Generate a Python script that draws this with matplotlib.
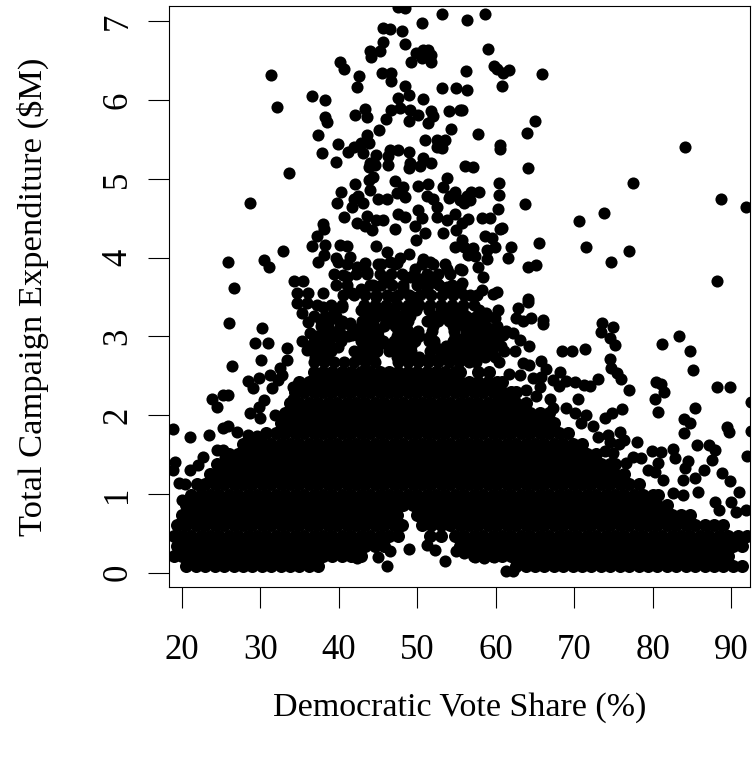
import matplotlib
matplotlib.use("Agg")
import matplotlib.pyplot as plt

plt.rcParams['font.family'] = ['Liberation Serif', 'DejaVu Serif']

x_ticks = [20, 30, 40, 50, 60, 70, 80, 90]
y_ticks = [0, 1, 2, 3, 4, 5, 6, 7]
x_title = "Democratic Vote Share (%)"
y_title = "Total Campaign Expenditure ($M)"

# isolated and loosely packed races: (vote share, expenditure)
sparse_x = [31.38,32.1,33.67,28.66,25.86,26.7,30.5,31.08,32.9,34.3,35.5,36.6,38.3,38.25,38.5,37.3,37.9,39.87,39.66,40.17,40.67,42.6,42.3,
 43.95,44.1,45.2,45.6,45.7,46.5,48.0,48.4,50.6,53.1,47.6,48.5,49.9,50.8,51.4,51.8,50.6,49.2,51.7,45.5,46.7,46.7,48.4,48.9,47.5,50.8,53.1,55.0,
 43.35,43.56,42.08,47.8,46.7,46.0,45.1,49.1,50.1,48.9,51.8,52.05,51.4,54.0,55.4,54.3,43.65,42.9,41.9,41.2,43.8,43.1,51.0,52.5,53.5,52.5,53.2,
 44.75,44.0,44.6,43.8,46.5,46.3,46.3,47.6,48.9,49.1,49.0,50.4,50.8,51.8,43.9,44.4,42.1,40.25,39.75,47.2,48.2,50.1,51.4,53.75,53.3,
 54.8,54.2,55.4,42.5,41.9,43.1,44.0,45.0,46.1,47.4,48.4,51.2,52.05,52.5,54.0,54.8,
 41.65,40.7,42.3,43.6,44.8,45.7,44.2,43.3,47.2,47.6,48.4,50.1,50.6,49.7,52.5,53.75,55.0,53.3,51.0,49.9,54.8,
 38.0,38.1,37.2,38.25,40.2,41.0,38.1,36.55,37.4,39.7,41.45,39.95,43.35,43.6,40.6,42.3,41.0,44.8,46.1,47.8,48.9,46.5,45.05,50.8,51.6,49.7,53.75,55.4,47.4,49.1,51.8,50.4,52.5,44.4,46.1,48.2,51.2,53.75,55.4,41.65,42.9,34.65,36.1,38.0,44.8,47.0,49.5,
 58.6,56.4,59.06,59.8,60.1,60.9,61.65,56.2,65.9,60.8,56.3,55.65,65.05,64.03,57.7,60.6,60.55,56.1,57.05,64.1,77.45,84.15,60.4,60.4,57.9,56.9,56.3,56.7,55.9,60.3,63.7,58.2,59.3,56.5,55.65,60.55,60.75,70.6,73.75,88.65,91.9,
 58.6,59.5,59.9,58.85,58.9,57.15,56.5,57.4,55.65,55.9,62.0,61.6,65.5,71.5,77.0,74.7,64.15,65.1,88.15,57.8,58.4,55.65,55.65,59.7,60.2,58.2,57.6,56.7,55.9,64.15,
 26.0,30.2,29.4,30.96,30.1,26.4,28.5,29.05,29.8,23.9,24.45,25.2,25.85,30.5,29.8,28.7,30.0,31.9,18.85,21.0,23.5,25.3,25.95,27.1,28.5,29.55,
 22.7,22.1,21.06,19.15,18.94,19.6,20.4,20.1,24.5,25.3,25.5,31.25,32.5,33.4,32.3,31.5,33.4,35.3,36.35,38.05,36.1,35.3,34.65,35.9,38.05,40.4,38.6,39.3,41.45,40.2,41.65,42.7,39.96,35.9,38.05,34.2,34.2,32.75,
 73.5,74.95,73.45,74.5,75.15,68.45,69.75,71.4,81.2,83.35,84.7,85.15,88.25,89.8,74.6,74.7,75.4,76.0,77.0,80.4,81.1,81.5,80.25,80.65,85.4,84.0,84.7,84.0,89.4,89.7,92.55,92.55,92.05,
 73.0,72.0,71.3,70.05,69.0,68.15,67.3,68.05,70.5,76.1,74.85,73.9,66.0,66.0,64.3,64.1,62.85,64.5,63.45,62.6,60.3,58.8,57.1,59.9,62.2,60.9,63.05,59.45,58.2,57.1,55.4,62.4,65.8,66.45,63.5,64.3,61.75,63.05,
 64.75,65.8,63.9,65.6,61.75,60.9,66.9,65.15,69.0,70.05,71.5,70.9,72.4,67.3,73.0,74.3,75.8,76.4,74.5,78.0,75.65,79.9,81.0,82.6,82.8,84.5,84.05,85.65,87.2,87.9,87.6,86.5,88.8,89.9,90.95,
 80.65,80.25,83.85,85.35,85.75,83.85,87.9,90.0,91.9,90.65,88.5,73.9,74.95,77.5,78.55,76.6,79.4,81.3,82.6,
 46.1,49.0,53.5,42.3,45.0,46.5,51.2,52.3,55.0,61.3,62.2,56.0,57.3,58.5,59.8]
sparse_y = [6.32,5.91,5.07,4.70,3.94,3.61,3.97,3.88,4.09,3.71,3.70,6.05,6.0,5.79,5.72,5.56,5.33,5.44,5.22,6.49,6.40,6.31,6.17,
 6.63,6.55,6.63,6.74,6.92,6.91,6.88,6.71,6.98,7.09,7.18,7.17,6.6,6.64,6.64,6.58,6.54,6.49,6.49,6.35,6.35,6.25,6.18,6.06,6.03,6.02,6.16,6.15,
 5.89,5.79,5.81,5.9,5.87,5.76,5.62,5.87,5.81,5.73,5.86,5.8,5.71,5.86,5.87,5.63,5.56,5.46,5.41,5.34,5.46,5.33,5.5,5.5,5.5,5.41,5.39,
 5.3,5.2,5.18,5.15,5.37,5.29,5.18,5.37,5.34,5.2,5.14,5.16,5.26,5.2,4.99,5.03,4.93,4.83,4.69,4.97,4.9,4.91,4.94,5.01,4.9,
 4.84,4.78,4.73,4.78,4.74,4.69,4.86,4.74,4.75,4.82,4.77,4.78,4.74,4.65,4.76,4.56,
 4.65,4.52,4.44,4.53,4.48,4.48,4.35,4.4,4.36,4.56,4.52,4.6,4.5,4.4,4.52,4.48,4.35,4.31,4.31,4.22,4.14,
 4.43,4.36,4.28,4.16,4.16,4.15,4.03,4.15,3.95,4.0,4.01,3.94,3.93,3.82,3.78,3.88,3.75,4.15,4.07,4.0,4.05,3.95,3.92,3.98,3.95,3.85,3.85,3.85,3.93,3.75,3.75,3.73,3.68,3.65,3.72,3.62,3.62,3.63,3.62,3.55,3.6,3.55,3.55,3.55,3.5,3.5,3.5,
 7.09,7.02,6.65,6.44,6.39,6.34,6.38,6.37,6.33,6.18,6.13,5.88,5.73,5.58,5.57,5.43,5.38,5.16,5.15,5.14,4.95,5.40,4.95,4.80,4.84,4.83,4.78,4.73,4.69,4.62,4.68,4.5,4.51,4.49,4.44,4.36,4.38,4.47,4.57,4.74,4.64,
 4.27,4.25,4.14,4.1,3.98,4.12,4.04,4.02,4.23,4.14,4.13,4.0,4.19,4.14,4.08,3.94,3.88,3.91,3.71,3.88,3.76,3.84,3.68,3.54,3.56,3.59,3.53,3.53,3.53,3.48,
 3.17,3.11,2.92,2.92,2.70,2.62,2.44,2.35,2.47,2.2,2.11,2.26,2.25,2.19,2.11,2.03,1.96,2.0,1.82,1.72,1.75,1.84,1.86,1.79,1.75,1.73,
 1.47,1.37,1.3,1.41,1.3,1.14,1.12,0.92,1.56,1.56,1.47,2.51,2.6,2.7,2.45,2.35,2.85,2.94,3.04,3.02,3.18,3.3,3.43,3.42,3.38,3.38,3.17,3.23,3.17,3.04,3.02,2.81,2.87,2.83,2.83,2.2,2.36,2.51,
 3.17,3.12,3.05,2.98,2.89,2.82,2.82,2.84,2.90,3.0,2.81,2.57,2.36,2.36,2.71,2.6,2.53,2.46,2.32,2.42,2.39,2.29,2.2,2.04,2.09,1.95,1.9,1.77,1.85,1.78,2.17,1.8,1.48,
 2.46,2.37,2.385,2.42,2.44,2.55,2.45,2.37,2.21,2.08,2.03,1.97,3.21,3.16,2.88,3.44,3.36,3.23,3.19,3.23,3.34,3.3,3.23,3.23,3.04,3.02,2.96,3.1,3.04,3.1,3.3,2.81,2.69,2.59,2.66,2.64,2.52,2.51,
 2.47,2.49,2.32,2.36,2.22,2.22,2.2,2.24,2.09,2.03,2.0,1.9,1.86,2.09,1.72,1.75,1.79,1.69,1.66,1.66,1.64,1.54,1.53,1.57,1.45,1.42,1.33,1.62,1.62,1.56,1.43,1.3,1.27,1.16,1.02,
 1.39,1.28,1.18,1.2,1.03,0.99,0.9,0.9,0.8,0.77,0.8,1.54,1.52,1.47,1.45,1.39,1.3,1.18,1.01,
 0.08,0.3,0.15,0.18,0.2,0.27,0.35,0.29,0.27,0.02,0.02,0.25,0.2,0.18,0.2]

# the heavily overplotted mass of races, read band by band
band_y = [0.08,0.21,0.34,0.47,0.60,0.73,0.86,0.99,1.12,1.25,1.38,1.51,1.64,1.77,1.90,2.03,2.16,2.29,2.42,2.55]
band_x = [
 [20.6,21.8,23.0,24.2,25.4,26.6,27.8,29.0,30.2,31.4,32.6,33.8,35.0,36.2,37.4,62.6,63.8,65.0,66.2,67.4,68.6,69.8,71.0,72.2,73.4,74.6,75.8,77.0,78.2,79.4,80.6,81.8,83.0,84.2,85.4,86.6,87.8,89.0,90.2,91.4],
 [19.0,20.0,21.2,22.4,23.6,24.8,26.0,27.2,28.4,29.6,30.8,32.0,33.2,34.4,35.6,36.8,38.0,39.2,40.4,41.6,42.8,57.2,58.4,59.6,60.8,62.0,63.2,64.4,65.6,66.8,68.0,69.2,70.4,71.6,72.8,74.0,75.2,76.4,77.6,78.8,80.0,81.2,82.4,83.6,84.8,86.0,87.2,88.4,89.6],
 [19.4,20.6,21.8,23.0,24.2,25.4,26.6,27.8,29.0,30.2,31.4,32.6,33.8,35.0,36.2,37.4,38.6,39.8,41.0,42.2,43.4,44.6,45.8,55.4,56.6,57.8,59.0,60.2,61.4,62.6,63.8,65.0,66.2,67.4,68.6,69.8,71.0,72.2,73.4,74.6,75.8,77.0,78.2,79.4,80.6,81.8,83.0,84.2,85.4,86.6,87.8,89.0,90.2,91.4],
 [19.0,20.0,21.2,22.4,23.6,24.8,26.0,27.2,28.4,29.6,30.8,32.0,33.2,34.4,35.6,36.8,38.0,39.2,40.4,41.6,42.8,44.0,45.2,46.4,47.6,51.6,53.0,54.8,56.0,57.2,58.4,59.6,60.8,62.0,63.2,64.4,65.6,66.8,68.0,69.2,70.4,71.6,72.8,74.0,75.2,76.4,77.6,78.8,80.0,81.2,82.4,83.6,84.8,86.0,87.2,88.4,89.6,90.8,92.0],
 [19.4,20.6,21.8,23.0,24.2,25.4,26.6,27.8,29.0,30.2,31.4,32.6,33.8,35.0,36.2,37.4,38.6,39.8,41.0,42.2,43.4,44.6,45.8,47.0,48.0,50.6,51.8,53.0,54.2,55.4,56.6,57.8,59.0,60.2,61.4,62.6,63.8,65.0,66.2,67.4,68.6,69.8,71.0,72.2,73.4,74.6,75.8,77.0,78.2,79.4,80.6,81.8,83.0,84.2,85.4,86.6,87.8,89.0],
 [20.0,21.2,22.4,23.6,24.8,26.0,27.2,28.4,29.6,30.8,32.0,33.2,34.4,35.6,36.8,38.0,39.2,40.4,41.6,42.8,44.0,45.2,46.4,47.4,50.0,51.2,52.4,53.6,54.8,56.0,57.2,58.4,59.6,60.8,62.0,63.2,64.4,65.6,66.8,68.0,69.2,70.4,71.6,72.8,74.0,75.2,76.4,77.6,78.8,80.0,81.2,82.4,83.6,84.8],
 [20.6,21.8,23.0,24.2,25.4,26.6,27.8,29.0,30.2,31.4,32.6,33.8,35.0,36.2,37.4,38.6,39.8,41.0,42.2,43.4,44.6,45.8,47.0,48.2,49.4,50.6,51.8,53.0,54.2,55.4,56.6,57.8,59.0,60.2,61.4,62.6,63.8,65.0,66.2,67.4,68.6,69.8,71.0,72.2,73.4,74.6,75.8,77.0,78.2,79.4,80.6,81.8],
 [21.2,22.4,23.6,24.8,26.0,27.2,28.4,29.6,30.8,32.0,33.2,34.4,35.6,36.8,38.0,39.2,40.4,41.6,42.8,44.0,45.2,46.4,47.6,48.8,50.0,51.2,52.4,53.6,54.8,56.0,57.2,58.4,59.6,60.8,62.0,63.2,64.4,65.6,66.8,68.0,69.2,70.4,71.6,72.8,74.0,75.2,76.4,77.6,78.8,80.0,80.7],
 [21.9,23.0,24.2,25.4,26.6,27.8,29.0,30.2,31.4,32.6,33.8,35.0,36.2,37.4,38.6,39.8,41.0,42.2,43.4,44.6,45.8,47.0,48.2,49.4,50.6,51.8,53.0,54.2,55.4,56.6,57.8,59.0,60.2,61.4,62.6,63.8,65.0,66.2,67.4,68.6,69.8,71.0,72.2,73.4,74.6,75.8,77.0,78.2],
 [23.6,24.8,26.0,27.2,28.4,29.6,30.8,32.0,33.2,34.4,35.6,36.8,38.0,39.2,40.4,41.6,42.8,44.0,45.2,46.4,47.6,48.8,50.0,51.2,52.4,53.6,54.8,56.0,57.2,58.4,59.6,60.8,62.0,63.2,64.4,65.6,66.8,68.0,69.2,70.4,71.6,72.8,74.0,75.2,76.4],
 [24.5,25.4,26.6,27.8,29.0,30.2,31.4,32.6,33.8,35.0,36.2,37.4,38.6,39.8,41.0,42.2,43.4,44.6,45.8,47.0,48.2,49.4,50.6,51.8,53.0,54.2,55.4,56.6,57.8,59.0,60.2,61.4,62.6,63.8,65.0,66.2,67.4,68.6,69.8,71.0,72.2,73.4,74.6,75.2],
 [26.0,27.2,28.4,29.6,30.8,32.0,33.2,34.4,35.6,36.8,38.0,39.2,40.4,41.6,42.8,44.0,45.2,46.4,47.6,48.8,50.0,51.2,52.4,53.6,54.8,56.0,57.2,58.4,59.6,60.8,62.0,63.2,64.4,65.6,66.8,68.0,69.2,70.4,71.6,72.8],
 [27.8,29.0,30.2,31.4,32.6,33.8,35.0,36.2,37.4,38.6,39.8,41.0,42.2,43.4,44.6,45.8,47.0,48.2,49.4,50.6,51.8,53.0,54.2,55.4,56.6,57.8,59.0,60.2,61.4,62.6,63.8,65.0,66.2,67.4,68.6,69.8,71.0],
 [30.8,32.0,33.2,34.4,35.6,36.8,38.0,39.2,40.4,41.6,42.8,44.0,45.2,46.4,47.6,48.8,50.0,51.2,52.4,53.6,54.8,56.0,57.2,58.4,59.6,60.8,62.0,63.2,64.4,65.6,66.8,68.0,69.2],
 [32.6,33.8,35.0,36.2,37.4,38.6,39.8,41.0,42.2,43.4,44.6,45.8,47.0,48.2,49.4,50.6,51.8,53.0,54.2,55.4,56.6,57.8,59.0,60.2,61.4,62.6,63.8,65.0,66.2,67.4],
 [33.2,34.4,35.6,36.8,38.0,39.2,40.4,41.6,42.8,44.0,45.2,46.4,47.6,48.8,50.0,51.2,52.4,53.6,54.8,56.0,57.2,58.4,59.6,60.8,62.0,63.2,64.4,65.6,66.8],
 [33.8,35.0,36.2,37.4,38.6,39.8,41.0,42.2,43.4,44.6,45.8,47.0,48.2,49.4,50.6,51.8,53.0,54.2,55.4,56.6,57.8,59.0,60.2,61.4,62.6,63.8],
 [34.4,35.6,36.8,38.0,39.2,40.4,41.6,42.8,44.0,45.2,46.4,47.6,48.8,50.0,51.2,52.4,53.6,54.8,56.0,57.2,58.4,59.6,60.8,62.0,62.6],
 [35.0,36.2,37.4,38.6,39.8,41.0,42.2,43.4,44.6,45.8,47.0,48.2,49.4,50.6,51.8,53.0,54.2,55.4,56.6,57.8,59.0,60.2,60.8],
 [36.8,38.0,39.2,40.4,41.6,42.8,44.0,45.2,46.4,47.6,48.8,50.0,51.2,52.4,53.6,54.8,55.4,57.8,59.2],
]

# the crowded but not solid zone above the mass
loose_y = [2.68,2.81,2.94,3.07,3.20,3.33,2.745,2.875,3.005,3.135,3.265,3.395,3.525,3.655,3.79,3.92]
loose_x = [
 [36.8,38.1,39.4,40.7,42.0,43.3,44.6,47.5,48.8,50.1,51.4,52.7,54.0,55.3,56.6,57.5,60.4],
 [37.4,39.0,42.0,43.5,44.9,46.4,47.8,49.2,51.6,52.9,54.2,55.6,56.9,58.2,59.5,61.0],
 [36.9,38.8,40.3,42.9,44.2,45.6,47.0,48.4,49.7,51.5,52.2,54.6,55.9,57.2,58.6,60.0],
 [39.0,42.3,43.7,45.0,47.5,48.8,50.1,51.9,54.7,56.2,57.4,60.1,61.3],
 [37.7,40.4,43.0,44.4,46.0,47.4,48.8,51.3,52.6,54.0,55.4,56.4,58.3],
 [39.4,42.9,44.3,45.6,47.1,48.6,49.9,51.5,53.0,54.3,55.7,57.9],
 [37.0,38.4,43.0,44.4,47.4,48.8,50.2,51.6,53.0,54.4,55.8,57.2,58.6,59.9],
 [36.4,37.7,43.6,45.0,46.4,47.8,49.2,52.3,53.7,55.1,56.5,57.9,59.3,60.7],
 [37.1,39.8,41.2,42.6,44.0,45.0,47.4,48.8,50.2,51.6,54.8,56.2,57.6,59.0,60.4],
 [37.8,40.2,41.6,43.0,44.4,45.8,47.2,48.6,52.0,54.6,56.0,57.4,58.8,60.2],
 [36.8,38.2,39.6,43.5,44.9,46.3,47.7,49.1,52.0,53.4,54.8,56.2,57.6,59.0],
 [37.2,39.0,40.4,43.2,44.6,46.0,47.4,48.8,50.2,51.6,53.0,54.4,55.8,57.2],
 [40.6,42.0,43.4,44.8,46.2,47.6,49.0,50.4,51.8,53.2,54.6],
 [39.6,41.0,44.0,45.4,46.8,48.2,50.0,51.4,52.8,54.4],
 [39.4,42.2,43.6,45.2,46.6,48.0,49.6,51.2,52.6,54.2],
 [41.0,45.4,47.2,50.6,52.0,53.6],
]

fig = plt.figure(figsize=(7.53, 7.57), dpi=100)
ax = fig.add_axes([169.3/753, 1-587.3/757, 581/753, 580.8/757])

ax.scatter(sparse_x, sparse_y, s=76, c='black', linewidths=0)
for level, shares in zip(loose_y, loose_x):
    ax.scatter(shares, [level]*len(shares), s=76, c='black', linewidths=0)
for level, shares in zip(band_y, band_x):
    ax.scatter(shares, [level]*len(shares), s=88, c='black', linewidths=0)

ax.set_xlim(18.42, 92.43)
ax.set_ylim(-0.186, 7.19)
ax.set_xticks(x_ticks)
ax.set_yticks(y_ticks)
ax.tick_params(axis='both', length=15.2, width=0.8, labelsize=25, color='black')
ax.tick_params(axis='x', pad=18.5)
ax.tick_params(axis='y', pad=10)
for lab in ax.get_yticklabels():
    lab.set_rotation(90)
    lab.set_va('center')
for s in ax.spines.values():
    s.set_linewidth(0.8)
ax.set_xlabel(x_title, fontsize=24.5, labelpad=18.4)
ax.set_ylabel(y_title, fontsize=24.8, labelpad=38)
fig.savefig("out.png", dpi=100)
